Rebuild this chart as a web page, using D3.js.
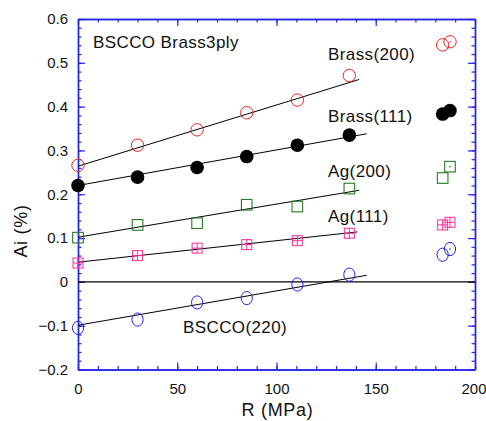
<!DOCTYPE html>
<html>
<head>
<meta charset="utf-8">
<script src="https://cdn.jsdelivr.net/npm/d3@7"></script>
<style>
  body { margin: 0; background: #fff; }
  svg { display: block; font-family: "Liberation Sans", Arial, sans-serif; }
  .tick text { font-size: 15px; fill: #111; }
  .lbl { font-size: 17px; letter-spacing: 0.4px; fill: #111; }
</style>
</head>
<body>
<div id="chart"></div>
<script>
// ── Data ────────────────────────────────────────────────────────────────
const pressure = [0, 30, 60, 85, 110.5, 136.7, 183.7, 187.4];

const brass200 = [0.266, 0.312, 0.347, 0.386, 0.415, 0.471, 0.541, 0.548];
const brass111 = [0.220, 0.239, 0.261, 0.286, 0.312, 0.335, 0.383, 0.391];
const ag200    = [0.101, 0.130, 0.134, 0.176, 0.172, 0.213, 0.237, 0.263];
const ag111    = [0.043, 0.060, 0.077, 0.085, 0.094, 0.111, 0.130, 0.136];
const bscco220 = [-0.105, -0.086, -0.047, -0.037, -0.006, 0.0165, 0.062, 0.075];

// linear fits: value at R = 0 and at the line end
const fitEndR = [141.7, 145.4, 141.7, 140.7, 145.4];
const fitY0   = [0.264, 0.220, 0.102, 0.045, -0.099];
const fitY1   = [0.462, 0.338, 0.209, 0.114, 0.015];

const seriesNames = ["Brass(200)", "Brass(111)", "Ag(200)", "Ag(111)", "BSCCO(220)"];
const xTicks = [0, 50, 100, 150, 200];
const yTicks = [-0.2, -0.1, 0, 0.1, 0.2, 0.3, 0.4, 0.5, 0.6];

// ── Layout ──────────────────────────────────────────────────────────────
const totalW = 486, totalH = 421;
const margin = { top: 19, right: 11, bottom: 51.5, left: 78 };
const W = totalW - margin.left - margin.right;
const H = totalH - margin.top - margin.bottom;

const svg = d3.select("#chart").append("svg")
  .attr("width", totalW).attr("height", totalH);
const g = svg.append("g").attr("transform", `translate(${margin.left},${margin.top})`);

const x = d3.scaleLinear().domain([0, 200]).range([0, W]);
const y = d3.scaleLinear().domain([-0.2, 0.6]).range([H, 0]);

const axisBlue = "#2626e6";
const fmtY = d => d === 0 ? "0" : (d < 0 ? "\u2212" : "") + Math.abs(d).toFixed(1);

// ── Axes (ticks inward on all four sides) ──────────────────────────────────
const minorX = d3.range(0, 201, 10);
const minorY = d3.range(-0.2, 0.601, 0.02);

function frameAxis(axis, transform) {
  const a = g.append("g").attr("transform", transform).call(axis);
  a.selectAll("path, line").attr("stroke", axisBlue).attr("stroke-width", 1.2);
  return a;
}

frameAxis(d3.axisBottom(x).tickValues(minorX).tickSizeInner(-3.5).tickSizeOuter(0).tickFormat(""), `translate(0,${H})`);
frameAxis(d3.axisTop(x).tickValues(minorX).tickSizeInner(-3.5).tickSizeOuter(0).tickFormat(""), "translate(0,0)");
frameAxis(d3.axisLeft(y).tickValues(minorY).tickSizeInner(-3.5).tickSizeOuter(0).tickFormat(""), "translate(0,0)");
frameAxis(d3.axisRight(y).tickValues(minorY).tickSizeInner(-3.5).tickSizeOuter(0).tickFormat(""), `translate(${W},0)`);

const xAxisMajor = frameAxis(d3.axisBottom(x).tickValues(xTicks).tickSizeInner(-7).tickSizeOuter(0).tickPadding(14), `translate(0,${H})`);
xAxisMajor.selectAll("text").attr("dy", "0.71em");
// last label sits against the right edge of the page
xAxisMajor.selectAll(".tick text").filter(d => d === 200)
  .attr("text-anchor", "end").attr("x", totalW - margin.left - W);
frameAxis(d3.axisTop(x).tickValues(xTicks).tickSizeInner(-7).tickSizeOuter(0).tickFormat(""), "translate(0,0)");
frameAxis(d3.axisLeft(y).tickValues(yTicks).tickSizeInner(-7).tickSizeOuter(0).tickPadding(10).tickFormat(fmtY), "translate(0,0)");
frameAxis(d3.axisRight(y).tickValues(yTicks).tickSizeInner(-7).tickSizeOuter(0).tickFormat(""), `translate(${W},0)`);

g.selectAll(".domain").attr("stroke", axisBlue).attr("stroke-width", 1.4);
g.selectAll(".tick text").attr("fill", "#111");

// zero line
g.append("line")
  .attr("x1", 0).attr("x2", W)
  .attr("y1", y(0)).attr("y2", y(0))
  .attr("stroke", "#000").attr("stroke-width", 1.2);

// axis titles
svg.append("text")
  .attr("x", 277.5).attr("y", 416)
  .attr("text-anchor", "middle")
  .attr("font-size", 18).attr("letter-spacing", "0.7px").attr("fill", "#111")
  .text("R (MPa)");

svg.append("text")
  .attr("transform", "translate(27,231) rotate(-90)")
  .attr("text-anchor", "middle")
  .attr("font-size", 18).attr("letter-spacing", "0.7px").attr("fill", "#111")
  .text("Ai (%)");

// ── Fit lines ───────────────────────────────────────────────────────────
fitEndR.forEach((r1, i) => {
  g.append("line")
    .attr("x1", x(0)).attr("y1", y(fitY0[i]))
    .attr("x2", x(r1)).attr("y2", y(fitY1[i]))
    .attr("stroke", "#000").attr("stroke-width", 1);
});

// ── Markers ─────────────────────────────────────────────────────────────
const pts = vals => vals.map((v, i) => ({ r: pressure[i], v, last: i === vals.length - 1 }));

function centreDot(sel, color) {
  sel.filter(d => d.last).append("circle")
    .attr("r", 0.8).attr("fill", color);
}

// Brass(200): open red circles
const red = "#ee2222";
const gB2 = g.append("g").selectAll("g").data(pts(brass200)).join("g")
  .attr("transform", d => `translate(${x(d.r)},${y(d.v)})`);
gB2.append("circle").attr("r", 6.2).attr("fill", "none").attr("stroke", red).attr("stroke-width", 1);
centreDot(gB2, red);

// Brass(111): filled black circles
g.append("g").selectAll("circle").data(pts(brass111)).join("circle")
  .attr("cx", d => x(d.r)).attr("cy", d => y(d.v))
  .attr("r", 6.8).attr("fill", "#000");

// Ag(200): open green squares
const green = "#237a23";
const gA2 = g.append("g").selectAll("g").data(pts(ag200)).join("g")
  .attr("transform", d => `translate(${x(d.r)},${y(d.v)})`);
gA2.append("rect").attr("x", -5.3).attr("y", -5.3).attr("width", 10.6).attr("height", 10.6)
  .attr("fill", "none").attr("stroke", green).attr("stroke-width", 1.1);
centreDot(gA2, green);

// Ag(111): pink squares with a cross
const pink = "#ff2a9a";
const gA1 = g.append("g").selectAll("g").data(pts(ag111)).join("g")
  .attr("transform", d => `translate(${x(d.r)},${y(d.v)})`);
gA1.append("rect").attr("x", -5).attr("y", -5).attr("width", 10).attr("height", 10)
  .attr("fill", "none").attr("stroke", pink).attr("stroke-width", 1);
gA1.append("path").attr("d", "M0,-5V5M-5,0H5")
  .attr("stroke", pink).attr("stroke-width", 1);

// BSCCO(220): open blue ellipses
const blue = "#2222ee";
const gBs = g.append("g").selectAll("g").data(pts(bscco220)).join("g")
  .attr("transform", d => `translate(${x(d.r)},${y(d.v)})`);
gBs.append("ellipse").attr("rx", 5.6).attr("ry", 6.6)
  .attr("fill", "none").attr("stroke", blue).attr("stroke-width", 1);
centreDot(gBs, blue);

// ── Labels ──────────────────────────────────────────────────────────────
svg.append("text").attr("class", "lbl").attr("x", 93).attr("y", 48).text("BSCCO Brass3ply");
const labelPos = [[328, 60], [328, 122], [328, 177], [328, 222], [183, 333]];
seriesNames.forEach((name, i) => {
  svg.append("text").attr("class", "lbl")
    .attr("x", labelPos[i][0]).attr("y", labelPos[i][1])
    .text(name);
});
</script>
</body>
</html>
